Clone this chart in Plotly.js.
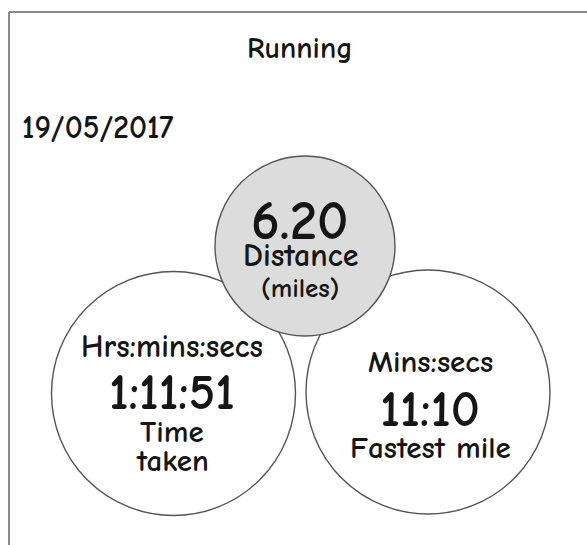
<!DOCTYPE html>
<html>
<head>
<meta charset="utf-8">
<script src="https://cdn.plot.ly/plotly-3.0.1.min.js"></script>
<style>html,body{margin:0;padding:0;background:#fff;}#chart{width:587px;height:545px;}</style>
</head>
<body>
<div id="chart"></div>
<script>
// ---- data ----
const chartTitle = "Running";
const dateLabel = "19/05/2017";
const metricValues = ["6.20", "1:11:51", "11:10"];
const metricUnits = ["", "Hrs:mins:secs", "Mins:secs"];
const metricNames = [["Distance", "(miles)"], ["Time", "taken"], ["Fastest mile"]];

// ---- layout (positions/styles) ----
const FONT = "Comic Sans MS, Comic Neue, Open Sans, sans-serif";
const INK = "#161616";
const circles = [
  {cx: 173.5, cy: 393.5, r: 122, fill: "#ffffff", textX: 172, unitY: 347, unitSize: 31.5, valueY: 393, valueSize: 50, nameY: [432, 461], nameSize: [31, 31]},
  {cx: 428, cy: 392, r: 122, fill: "#ffffff", textX: 430, unitY: 362, unitSize: 31, valueY: 409, valueSize: 51, nameY: [448], nameSize: [31]},
];
const topCircle = {cx: 305, cy: 246, r: 90, fill: "#dcdcdc", textX: 300, valueY: 221, valueSize: 55, nameY: [255, 288], nameSize: [32, 27]};
const order = [1, 2, 0]; // metric index for each circle: left, right, top

const shapes = [
  {type: "line", xref: "x", yref: "y", x0: 9, x1: 587, y0: 12, y1: 12, line: {color: "#8a8a8a", width: 2}},
  {type: "line", xref: "x", yref: "y", x0: 9, x1: 9, y0: 12, y1: 545, line: {color: "#8a8a8a", width: 2}},
];
const allCircles = [circles[0], circles[1], topCircle];
allCircles.forEach(c => {
  shapes.push({type: "circle", xref: "x", yref: "y", x0: c.cx - c.r, x1: c.cx + c.r, y0: c.cy - c.r, y1: c.cy + c.r,
    fillcolor: c.fill, line: {color: "#555555", width: 1.4}, layer: "above"});
});

const ann = [];
function txt(text, x, y, size, opts) {
  ann.push(Object.assign({text: "<b>" + text + "</b>", x: x, y: y, xref: "x", yref: "y", showarrow: false,
    xanchor: "center", yanchor: "middle", font: {family: FONT, size: size, color: INK}}, opts || {}));
}
txt(chartTitle, 300, 48, 30);
txt(dateLabel, 20, 128, 31.5, {xanchor: "left"});

allCircles.forEach((c, i) => {
  const m = order[i];
  if (metricUnits[m]) txt(metricUnits[m], c.textX, c.unitY, c.unitSize);
  txt(metricValues[m], c.textX, c.valueY, c.valueSize);
  metricNames[m].forEach((line, j) => txt(line, c.textX, c.nameY[j], c.nameSize[j]));
});

const layout = {
  width: 587, height: 545,
  margin: {l: 0, r: 0, t: 0, b: 0},
  paper_bgcolor: "#ffffff", plot_bgcolor: "#ffffff",
  xaxis: {range: [0, 587], visible: false, fixedrange: true},
  yaxis: {range: [545, 0], visible: false, fixedrange: true},
  showlegend: false,
  shapes: shapes,
  annotations: ann,
};
Plotly.newPlot("chart", [{x: [], y: [], type: "scatter", mode: "markers", hoverinfo: "skip"}], layout, {staticPlot: true, displayModeBar: false});
</script>
</body>
</html>
